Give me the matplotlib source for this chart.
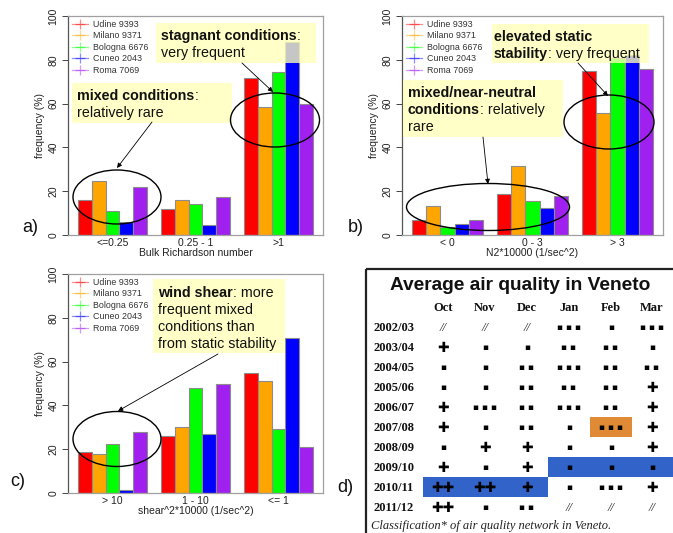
import matplotlib
matplotlib.use("Agg")
import matplotlib.pyplot as plt
from matplotlib.patches import Rectangle, Ellipse, FancyArrowPatch
import numpy as np

W, H = 673, 533

# ---------------- data ----------------
stations = ["Udine 9393", "Milano 9371", "Bologna 6676", "Cuneo 2043", "Roma 7069"]
station_colors = ["#FF0000", "#FFA500", "#00FF00", "#0000FF", "#A020F0"]

richardson_cats = ["<=0.25", "0.25 - 1", ">1"]
richardson_freq = [[15.8, 11.9, 71.5],
                   [24.7, 16.1, 58.3],
                   [11.0, 14.0, 74.4],
                   [6.1, 4.6, 88.3],
                   [21.8, 17.5, 59.7]]

n2_cats = ["< 0", "0 - 3", "> 3"]
n2_freq = [[6.8, 18.5, 74.8],
           [13.4, 31.3, 55.5],
           [3.5, 15.4, 81.0],
           [5.2, 12.5, 82.0],
           [6.8, 17.6, 75.7]]

shear_cats = ["> 10", "1 - 10", "<= 1"]
shear_freq = [[18.9, 25.8, 54.6],
              [18.0, 30.3, 51.0],
              [22.6, 47.9, 29.0],
              [1.5, 26.8, 71.0],
              [28.0, 50.0, 20.9]]

yticks = [0, 20, 40, 60, 80, 100]

table_title = "Average air quality in Veneto"
months = ["Oct", "Nov", "Dec", "Jan", "Feb", "Mar"]
seasons = ["2002/03", "2003/04", "2004/05", "2005/06", "2006/07",
           "2007/08", "2008/09", "2009/10", "2010/11", "2011/12"]
classes = [["//", "//", "//", "---", "-", "---"],
           ["+", "-", "-", "--", "--", "-"],
           ["-", "-", "--", "---", "--", "--"],
           ["-", "-", "--", "--", "--", "+"],
           ["+", "---", "--", "---", "--", "+"],
           ["+", "-", "--", "-", "---", "+"],
           ["-", "+", "+", "-", "-", "+"],
           ["+", "-", "+", "-", "-", "-"],
           ["++", "++", "+", "-", "---", "+"],
           ["++", "-", "--", "//", "//", "//"]]
caption = "Classification* of air quality network in Veneto."

# ---------------- figure ----------------
fig = plt.figure(figsize=(W / 100, H / 100), dpi=100)
SANS = ["Liberation Sans", "DejaVu Sans"]
SERIF = ["Liberation Serif", "DejaVu Serif"]


def px_rect(l, t, r, b):
    return [l / W, 1 - b / H, (r - l) / W, (b - t) / H]


def bar_panel(rect, cats, freq, xlabel, ylab_x):
    ax = fig.add_axes(px_rect(*rect))
    ng = len(cats)
    ns = len(freq)
    for s in range(ns):
        lefts = [1 + g * (ns + 1) + s for g in range(ng)]
        ax.bar(lefts, freq[s], width=1.0, align="edge", color=station_colors[s],
               edgecolor="#8c8c8c", linewidth=0.8, zorder=2)
    total = ng * (ns + 1)
    ax.set_xlim(1 - 0.72, total + 0.72)
    ax.set_ylim(0, 100)
    centers = [1 + g * (ns + 1) + ns / 2 for g in range(ng)]
    ax.set_xticks(centers)
    ax.set_xticklabels(cats, fontsize=7.5, family=SANS, color="#222222")
    ax.tick_params(axis="x", length=0, pad=2)
    ax.set_yticks(yticks)
    ax.set_yticklabels([str(v) for v in yticks], rotation=90, va="center",
                       fontsize=7.5, family=SANS, color="#222222")
    ax.tick_params(axis="y", length=4, width=0.7, color="#444444", pad=3)
    for sp in ax.spines.values():
        sp.set_color("#a0a0a0")
        sp.set_linewidth(0.9)
    ax.spines["left"].set_color("#555555")
    ax.set_xlabel(xlabel, fontsize=7.5, family=SANS, color="#222222", labelpad=0)
    ax.set_ylabel("frequency (%)", fontsize=7.5, family=SANS, color="#222222")
    l, t, r, b = rect
    ax.yaxis.set_label_coords((ylab_x - l) / (r - l), 0.5)
    handles = []
    for s in range(ns):
        h, = ax.plot([], [], color=station_colors[s], alpha=0.45, lw=0.9,
                     marker="+", markersize=7, markeredgewidth=0.9)
        handles.append(h)
    ax.legend(handles, stations, loc="upper left", frameon=False,
              prop={"family": SANS, "size": 6.4}, handlelength=1.8,
              handletextpad=0.55, labelspacing=0.28, borderaxespad=0.15,
              borderpad=0.3, labelcolor="#333333")
    return ax


bar_panel((68, 16, 323, 235), richardson_cats, richardson_freq, "Bulk Richardson number", 45)
bar_panel((402, 16, 663, 235), n2_cats, n2_freq, "N2*10000 (1/sec^2)", 379)
bar_panel((68, 274, 323, 493), shear_cats, shear_freq, "shear^2*10000 (1/sec^2)", 45)

# ---------------- overlay (annotations + table) ----------------
ov = fig.add_axes([0, 0, 1, 1], zorder=10)
ov.set_xlim(0, W)
ov.set_ylim(H, 0)
ov.axis("off")
ov.patch.set_alpha(0)

YEL = (1.0, 1.0, 0.72, 0.78)
renderer = fig.canvas.get_renderer()


def ybox(l, t, r, b):
    ov.add_patch(Rectangle((l, t), r - l, b - t, facecolor=YEL, edgecolor="none", zorder=1))


def rich(x, y, parts, size=10.3, dy=17):
    for i, line in enumerate(parts):
        xx = x
        for txt, bold in line:
            t = ov.text(xx, y + i * dy, txt, fontsize=size, family=SANS,
                        fontweight="bold" if bold else "normal", va="baseline",
                        ha="left", color="#111111", zorder=3)
            bb = t.get_window_extent(renderer=renderer)
            xx += bb.width * (W / fig.bbox.width)


def ell(cx, cy, w, h):
    ov.add_patch(Ellipse((cx, cy), w, h, fill=False, edgecolor="black", lw=1.0, zorder=4))


def arrow(x0, y0, x1, y1):
    ov.add_patch(FancyArrowPatch((x0, y0), (x1, y1), arrowstyle="-|>", mutation_scale=7,
                                 color="black", lw=0.6, zorder=4, shrinkA=0, shrinkB=0))


# panel a
ybox(156, 23, 316, 63)
rich(161, 40, [[("stagnant conditions", True), (":", False)], [("very frequent", False)]])
ybox(72, 83, 232, 123)
rich(77, 100, [[("mixed conditions", True), (":", False)], [("relatively rare", False)]])
ell(117, 197, 88, 54)
ell(275, 120, 89, 54)
arrow(152, 122, 117, 168)
arrow(242, 63, 273, 92)

# panel b
ybox(492, 24, 649, 63)
rich(494, 41, [[("elevated static", True)], [("stability", True), (": very frequent", False)]])
ybox(403, 80, 563, 137)
rich(408, 97, [[("mixed/near-neutral", True)], [("conditions", True), (": relatively", False)],
               [("rare", False)]])
ell(488, 207, 163, 47)
ell(609, 122, 90, 54)
arrow(483, 137, 488, 184)
arrow(578, 63, 608, 96)

# panel c
ybox(153, 279, 285, 353)
rich(158, 297, [[("wind shear", True), (": more", False)], [("frequent mixed", False)],
                [("conditions than", False)], [("from static stability", False)]])
ell(117, 439, 88, 55)
arrow(218, 354, 118, 411)

# panel letters
for lab, x, y in [("a)", 22, 228), ("b)", 348, 228), ("c)", 10, 482), ("d)", 337, 488)]:
    ov.text(x, y, lab, fontsize=13, family=SANS, va="center", ha="left", color="#111111")

# ---------------- table (panel d) ----------------
ov.add_patch(Rectangle((366, 269), 330, 290, fill=False, edgecolor="#222222", lw=1.6, zorder=1))
ov.text(520, 285, table_title, fontsize=13.8, family=SANS, fontweight="bold",
        ha="center", va="center", color="#111111", zorder=3)

col_x = [443, 485, 527, 569, 611, 652]
row_y0, row_dy = 328, 20
lab_x = 373

# highlighted cells
ov.add_patch(Rectangle((590, 417), 42, 20, facecolor="#E08A35", edgecolor="none", zorder=1))
ov.add_patch(Rectangle((548, 457), 130, 20, facecolor="#3163C8", edgecolor="none", zorder=1))
ov.add_patch(Rectangle((423, 477), 125, 20, facecolor="#3163C8", edgecolor="none", zorder=1))

for j, m in enumerate(months):
    ov.text(col_x[j], 308, m, fontsize=9, family=SERIF, fontweight="bold",
            ha="center", va="center", color="#111111", zorder=3)

GLYPH = {"+": "\u271A", "-": "\u25AA"}
for i, s in enumerate(seasons):
    y = row_y0 + i * row_dy
    ov.text(lab_x, y, s, fontsize=9, family=SERIF, fontweight="bold",
            ha="left", va="center", color="#111111", zorder=3)
    for j, c in enumerate(classes[i]):
        if c == "//":
            ov.text(col_x[j], y, "//", fontsize=9, family=SERIF, style="italic",
                    ha="center", va="center", color="#222222", zorder=3)
        else:
            if c[0] == "+":
                g = "".join(GLYPH[ch] for ch in c)
                ov.text(col_x[j], y, g, fontsize=10, family=["DejaVu Sans"],
                        ha="center", va="center", color="#000000", zorder=3)
            else:
                g = " ".join(GLYPH[ch] for ch in c)
                ov.text(col_x[j], y, g, fontsize=6.5, family=["DejaVu Sans"],
                        ha="center", va="center", color="#000000", zorder=3)

ov.text(371, 526, caption, fontsize=9.0, family=SERIF, style="italic",
        ha="left", va="center", color="#222222", zorder=3)

fig.savefig("out.png", dpi=100)
